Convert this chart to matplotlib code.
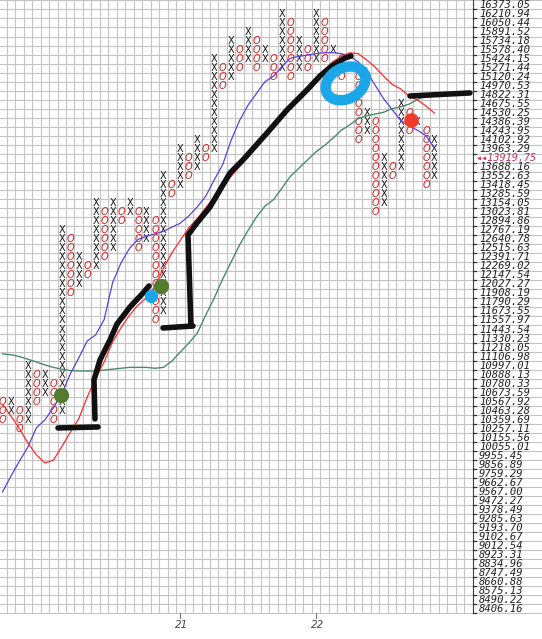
import matplotlib
matplotlib.use('Agg')  # no display
import matplotlib.pyplot as plt
import numpy as np

# price of every box row, from the top row (67) down to row 0
box_prices = ['16373.05', '16210.94', '16050.44', '15891.52', '15734.18', '15578.40',
              '15424.15', '15271.44', '15120.24', '14970.53', '14822.31', '14675.55',
              '14530.25', '14386.39', '14243.95', '14102.92', '13963.29', '13825.04',
              '13688.16', '13552.63', '13418.45', '13285.59', '13154.05', '13023.81',
              '12894.86', '12767.19', '12640.78', '12515.63', '12391.71', '12269.02',
              '12147.54', '12027.27', '11908.19', '11790.29', '11673.55', '11557.97',
              '11443.54', '11330.23', '11218.05', '11106.98', '10997.01', '10888.13',
              '10780.33', '10673.59', '10567.92', '10463.28', '10359.69', '10257.11',
              '10155.56', '10055.01', '9955.45', '9856.89', '9759.29', '9662.67',
              '9567.00', '9472.27', '9378.49', '9285.63', '9193.70', '9102.67',
              '9012.54', '8923.31', '8834.96', '8747.49', '8660.88', '8575.13',
              '8490.22', '8406.16']
last_price = '13919.75'
last_row = 50  # row whose label is replaced by the last price

# point & figure columns (box rows)
col_kind = 'OXOXOXOXOXOXOXOXOXOXOXOXOXOXOXOXOXOXOXOXOXOXOXOXOXOX'
col_low = [21, 22, 20, 21, 23, 24, 21, 22, 35, 36, 37, 38, 39, 40, 43, 44, 40, 41,
           32, 33, 46, 47, 48, 49, 50, 51, 58, 59, 60, 61, 60, 61, 59, 60, 59, 60,
           60, 61, 61, 62, 59, 60, 52, 53, 44, 45, 48, 49, 53, 54, 47, 48]
col_high = [23, 23, 22, 27, 26, 26, 25, 42, 41, 39, 38, 45, 44, 45, 44, 45, 44, 44,
            43, 48, 47, 51, 50, 52, 51, 61, 60, 63, 62, 64, 63, 62, 61, 66, 65, 63,
            62, 66, 65, 62, 61, 60, 59, 55, 54, 50, 49, 56, 55, 54, 53, 52]

# moving averages per column (box rows)
ma_red = [22.7, 21.4, 20.0, 18.4, 17.1, 16.2, 16.5, 18.0, 19.6, 21.1, 23.5, 25.6, 27.4,
          29.6, 31.2, 32.6, 33.7, 34.5, 35.8, 37.8, 39.5, 40.9, 42.3, 43.3, 44.5, 45.7,
          46.8, 48.0, 49.1, 50.1, 51.2, 52.4, 53.5, 54.7, 55.8, 56.9, 57.9, 58.9, 59.8,
          60.7, 61.3, 61.7, 61.6, 60.9, 60.1, 59.1, 58.2, 57.7, 56.9, 56.45, 55.8, 55.0]
ma_blue = [12.98, 14.75, 16.4, 17.97, 20.1, 20.97, 22.3, 23.85, 26.07, 27.84, 29.73,
           30.4, 32.1, 36.2, 38.4, 40.0, 41.0, 41.35, 41.6, 41.9, 42.35, 42.8, 43.6,
           44.6, 45.8, 47.6, 49.3, 52.0, 54.2, 55.9, 57.2, 58.5, 59.1, 60.2, 61.1, 61.3,
           61.45, 61.6, 61.7, 61.7, 61.6, 61.3, 60.7, 59.6, 58.1, 56.6, 55.4, 54.2, 53.6,
           53.1, 52.5, 51.1]
ma_green = [28.3, 28.2, 28.0, 27.7, 27.4, 27.07, 26.8, 26.6, 26.45, 26.4, 26.4, 26.4,
            26.5, 26.6, 26.7, 26.8, 26.8, 26.8, 26.7, 26.8, 27.5, 28.5, 29.5, 30.6,
            32.6, 34.5, 36.6, 38.5, 40.4, 42.0, 43.5, 44.7, 45.4, 46.7, 48.0, 48.9,
            49.8, 50.7, 51.4, 52.2, 53.1, 53.7, 54.4, 54.7, 54.9, 55.1, 55.5, 55.7,
            56.0, 56.5, 56.9, 57.2]

year_cols = [21, 37]
year_labels = ['21', '22']

# hand drawn marks (column, row)
pen1a_c = [6.55, 11.28]
pen1a_r = [20.08, 20.19]
pen1b_c = [10.92, 10.8, 11.51, 12.69, 13.52, 15.05, 16.59, 17.3]
pen1b_r = [21.08, 25.4, 27.62, 29.84, 31.61, 33.5, 35.05, 35.83]
pen2a_c = [18.95, 22.49]
pen2a_r = [31.17, 31.39]
pen2b_c = [22.25, 21.9, 22.96, 24.5, 26.86, 28.39, 31.23, 33.59, 35.95, 37.49, 38.9, 40.44, 41.15]
pen2b_r = [31.39, 41.49, 42.82, 44.59, 48.36, 49.81, 52.8, 55.35, 57.57, 59.12, 60.23, 61.12, 61.34]
pen3_c = [48.11, 55.19]
pen3_r = [56.9, 57.24]
green_dots_c = [6.91, 18.71]
green_dots_r = [23.74, 35.83]
blue_dot = (17.53, 34.72)
red_dot = (48.23, 54.24)
ring_center = (40.5, 58.3)

n_rows = len(box_prices)
right_edge = 55.5

fig = plt.figure(figsize=(5.42, 6.39), dpi=100)
ax = fig.add_axes([0, 0, 1, 1])
ax.set_xlim(-0.295, 63.7)
ax.set_ylim(-3.33, 67.55)
ax.axis('off')

# grid
for r in np.arange(-0.5, n_rows, 1.0):
    ax.plot([-0.295, 63.7], [r, r], color='#c4c4c4', lw=0.8, zorder=1)
for c in np.arange(-0.5, right_edge + 0.01, 1.0):
    ax.plot([c, c], [-0.5, 67.55], color='#c4c4c4', lw=0.8, zorder=1)
ax.plot([right_edge, right_edge], [-0.5, 67.55], color='#444444', lw=0.8, zorder=2)

# price scale
for i, p in enumerate(box_prices):
    row = n_rows - 1 - i
    ax.plot([right_edge, right_edge + 0.45], [row - 0.5, row - 0.5], color='#333333', lw=0.9, zorder=2)
    if row == last_row:
        continue
    ax.text(right_edge + 0.75, row, p, fontsize=7.6, family='DejaVu Sans Mono', style='italic',
            color='#222222', ha='left', va='center')
ax.text(right_edge + 0.35, last_row, '\u25c2\u25c2' + last_price, fontsize=7.3,
        family=['DejaVu Sans Mono', 'DejaVu Sans'], style='italic', color='#c8305a',
        ha='left', va='center')

# year ticks
for c, lab in zip(year_cols, year_labels):
    ax.plot([c, c], [-0.5, -1.0], color='#777777', lw=0.8)
    ax.text(c + 0.2, -1.75, lab, fontsize=7.5, style='italic', color='#444444',
            ha='center', va='center')

# boxes
for c, (k, lo, hi) in enumerate(zip(col_kind, col_low, col_high)):
    for r in range(lo, hi + 1):
        if k == 'X':
            ax.text(c, r, 'X', fontsize=7, color='#1a1a1a', ha='center', va='center', zorder=3)
        else:
            ax.text(c, r, 'O', fontsize=7, style='italic', color='#d02020',
                    ha='center', va='center', zorder=3)

cols = np.arange(len(col_kind))
ax.plot(cols, ma_green, color='#4a8c6a', lw=1.0, zorder=4)
ax.plot(cols, ma_blue, color='#5b3fe0', lw=0.9, zorder=4)
ax.plot(cols, ma_red, color='#ff2a2a', lw=0.9, zorder=4)

# hand drawn marks
pen = dict(color='#111111', lw=4.0, solid_capstyle='round', solid_joinstyle='round', zorder=5)
ax.plot(pen1a_c, pen1a_r, **pen)
ax.plot(pen1b_c, pen1b_r, **pen)
ax.plot(pen2a_c, pen2a_r, **pen)
ax.plot(pen2b_c, pen2b_r, **pen)
ax.plot(pen3_c, pen3_r, **pen)

t = np.linspace(0, 2 * np.pi, 200)
a, b, ang = 21.0, 15.5, np.radians(28)
ex = a * np.cos(t) * np.cos(ang) - b * np.sin(t) * np.sin(ang)
ey = a * np.cos(t) * np.sin(ang) + b * np.sin(t) * np.cos(ang)
ax.plot(ring_center[0] + ex / 8.47, ring_center[1] + ey / 9.015, color='#1aa6e8', lw=7.5, zorder=6)

ax.plot(green_dots_c, green_dots_r, 'o', color='#557b2c', ms=10, zorder=6)
ax.plot(*blue_dot, 'o', color='#1aa6ea', ms=8.5, zorder=6)
ax.plot(*red_dot, 'o', color='#f03c2c', ms=9.5, zorder=6)

fig.savefig('out.png', dpi=100)
